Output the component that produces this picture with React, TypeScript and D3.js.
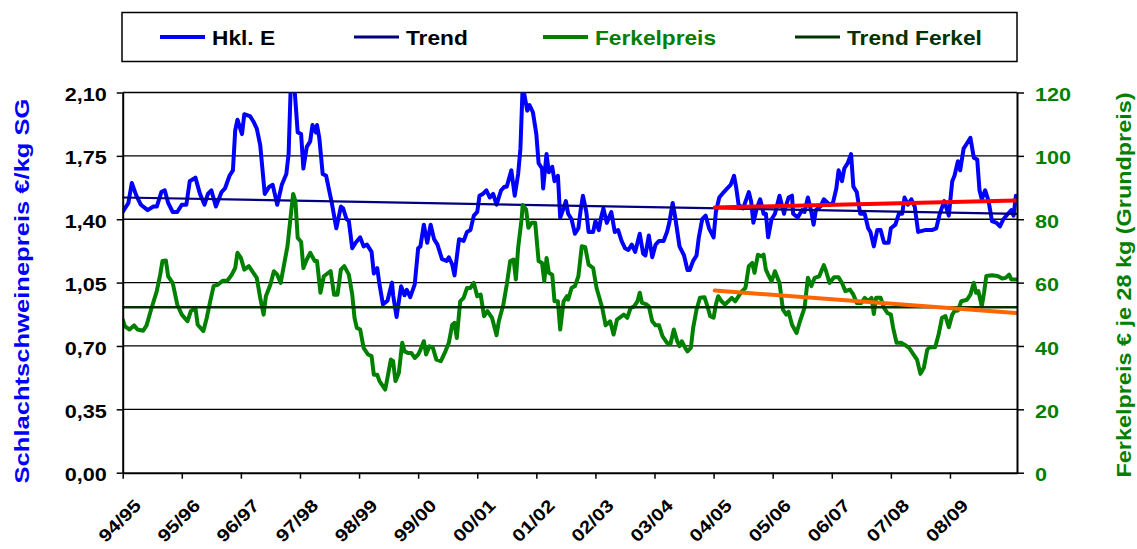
import React, { useRef, useEffect } from 'react';
import * as d3 from 'd3';

// x values are weeks counted from the start of 94/95 (52 weeks per season)
const seasons = ['94/95', '95/96', '96/97', '97/98', '98/99', '99/00', '00/01', '01/02', '02/03', '03/04', '04/05', '05/06', '06/07', '07/08', '08/09'];
const weekMax = 787;

// Hkl. E, €/kg SG (left axis)
const hklE: [number, number][] = [
  [0, 1.44], [5, 1.49], [8, 1.6], [12, 1.53], [16, 1.48], [22, 1.45], [27, 1.47], [30, 1.47], [34, 1.55], [37, 1.56],
  [40, 1.49], [44, 1.44], [48, 1.44], [52, 1.48], [56, 1.48], [59, 1.61], [64, 1.63], [68, 1.54], [72, 1.48], [75, 1.54],
  [78, 1.56], [82, 1.47], [87, 1.55], [90, 1.57], [94, 1.64], [97, 1.67], [99, 1.89], [101, 1.95], [105, 1.87], [107, 1.98],
  [112, 1.97], [115, 1.94], [118, 1.9], [121, 1.81], [125, 1.54], [129, 1.58], [132, 1.59], [136, 1.48], [140, 1.59], [144, 1.65],
  [146, 1.76], [148, 2.16], [151, 2.14], [154, 1.88], [157, 1.87], [159, 1.68], [162, 1.8], [165, 1.83], [167, 1.92], [170, 1.88],
  [171, 1.92], [173, 1.85], [176, 1.65], [179, 1.64], [184, 1.49], [188, 1.35], [192, 1.47], [194, 1.46], [197, 1.4], [199, 1.39],
  [202, 1.24], [205, 1.27], [209, 1.3], [212, 1.25], [215, 1.26], [219, 1.22], [221, 1.1], [224, 1.13], [226, 1.04], [229, 0.93],
  [233, 0.95], [237, 1.05], [238, 0.98], [241, 0.86], [245, 1.03], [248, 0.98], [250, 1.01], [253, 0.97], [257, 1.04], [260, 1.24],
  [262, 1.25], [265, 1.37], [268, 1.27], [271, 1.37], [274, 1.29], [277, 1.26], [281, 1.18], [285, 1.17], [287, 1.19], [290, 1.15],
  [292, 1.09], [296, 1.29], [300, 1.28], [303, 1.33], [306, 1.34], [309, 1.42], [312, 1.44], [314, 1.53], [317, 1.54], [320, 1.56],
  [323, 1.52], [326, 1.54], [329, 1.48], [333, 1.56], [336, 1.58], [338, 1.58], [342, 1.67], [345, 1.53], [348, 1.65], [350, 1.79],
  [352, 2.14], [356, 2.0], [358, 2.03], [361, 1.99], [364, 1.87], [366, 1.71], [369, 1.68], [370, 1.57], [373, 1.76], [375, 1.66],
  [378, 1.69], [380, 1.61], [383, 1.64], [385, 1.41], [388, 1.46], [390, 1.5], [392, 1.43], [395, 1.4], [398, 1.32], [401, 1.35],
  [403, 1.45], [405, 1.53], [408, 1.44], [410, 1.33], [414, 1.33], [416, 1.39], [419, 1.34], [421, 1.41], [423, 1.46], [426, 1.38],
  [430, 1.44], [433, 1.33], [436, 1.34], [439, 1.28], [442, 1.24], [445, 1.23], [448, 1.26], [451, 1.22], [455, 1.32], [458, 1.21],
  [460, 1.2], [463, 1.31], [466, 1.19], [469, 1.26], [472, 1.28], [476, 1.28], [479, 1.33], [481, 1.38], [484, 1.49], [486, 1.42],
  [490, 1.25], [494, 1.2], [497, 1.12], [499, 1.12], [502, 1.17], [505, 1.2], [507, 1.3], [510, 1.4], [513, 1.42], [516, 1.35],
  [520, 1.3], [522, 1.44], [525, 1.52], [529, 1.55], [532, 1.57], [535, 1.59], [538, 1.64], [540, 1.57], [542, 1.48], [546, 1.46],
  [551, 1.55], [553, 1.5], [555, 1.38], [558, 1.46], [561, 1.51], [564, 1.43], [566, 1.43], [568, 1.3], [571, 1.4], [574, 1.43],
  [578, 1.53], [582, 1.43], [583, 1.46], [586, 1.52], [589, 1.53], [590, 1.43], [594, 1.41], [598, 1.45], [600, 1.44], [603, 1.52],
  [606, 1.44], [608, 1.37], [610, 1.45], [614, 1.47], [617, 1.51], [622, 1.48], [625, 1.49], [628, 1.57], [630, 1.67], [633, 1.61],
  [635, 1.68], [638, 1.71], [641, 1.76], [643, 1.58], [646, 1.55], [649, 1.43], [653, 1.43], [656, 1.35], [658, 1.33], [661, 1.25],
  [664, 1.34], [667, 1.34], [670, 1.27], [674, 1.27], [676, 1.35], [680, 1.37], [683, 1.43], [686, 1.43], [688, 1.52], [691, 1.48],
  [694, 1.51], [697, 1.47], [700, 1.33], [706, 1.34], [712, 1.34], [716, 1.35], [719, 1.43], [723, 1.5], [727, 1.42], [730, 1.61],
  [732, 1.64], [735, 1.72], [737, 1.67], [740, 1.79], [743, 1.82], [746, 1.85], [749, 1.74], [752, 1.73], [754, 1.56], [756, 1.51],
  [759, 1.56], [762, 1.5], [765, 1.39], [769, 1.38], [772, 1.36], [775, 1.4], [779, 1.43], [782, 1.45], [784, 1.42], [786, 1.53],
];

// Ferkelpreis, € je 28 kg (right axis)
const ferkelpreis: [number, number][] = [
  [0, 48.3], [2, 46.2], [6, 45.2], [10, 46.5], [13, 45.2], [18, 44.8], [21, 46.5], [25, 51.5], [30, 57.3], [33, 62.5],
  [35, 66.8], [38, 67.0], [40, 62.0], [44, 59.9], [48, 53.1], [52, 49.9], [57, 47.8], [60, 51.0], [64, 52.0], [66, 46.7],
  [71, 44.7], [74, 48.9], [77, 54.1], [80, 58.9], [84, 59.4], [88, 60.6], [92, 60.6], [96, 62.5], [99, 64.6], [101, 69.4],
  [104, 67.8], [107, 64.1], [111, 65.2], [115, 63.1], [118, 61.5], [121, 55.2], [124, 49.9], [126, 55.7], [130, 59.4], [133, 63.6],
  [136, 62.5], [139, 59.9], [142, 65.7], [145, 71.5], [148, 81.5], [150, 88.0], [152, 85.7], [154, 74.1], [157, 72.9], [159, 64.6],
  [162, 67.3], [165, 69.4], [169, 66.8], [171, 66.8], [174, 56.8], [177, 62.0], [181, 63.1], [183, 63.6], [186, 56.2], [189, 56.2],
  [192, 64.1], [195, 65.2], [199, 62.5], [202, 56.2], [204, 48.9], [206, 45.7], [209, 45.2], [212, 39.4], [216, 37.3], [219, 36.8],
  [221, 30.9], [224, 30.9], [226, 28.9], [231, 26.2], [233, 29.9], [236, 35.7], [238, 35.2], [240, 28.9], [243, 31.5], [246, 41.0],
  [248, 38.3], [251, 37.8], [254, 37.8], [257, 36.2], [260, 37.3], [262, 38.8], [265, 41.5], [267, 37.3], [270, 39.9], [273, 39.4],
  [276, 35.7], [280, 35.2], [284, 38.3], [287, 41.0], [290, 46.7], [292, 47.3], [294, 42.5], [297, 54.1], [300, 55.2], [303, 58.3],
  [306, 58.3], [309, 59.9], [312, 55.7], [315, 56.2], [318, 49.4], [321, 51.0], [325, 48.9], [329, 43.4], [331, 47.8], [335, 53.1],
  [338, 59.4], [341, 66.8], [344, 67.3], [346, 61.0], [348, 71.0], [351, 79.9], [352, 84.5], [355, 83.1], [357, 77.3], [360, 78.9],
  [363, 78.9], [366, 66.8], [369, 66.2], [371, 60.4], [373, 67.8], [375, 63.1], [378, 62.5], [380, 54.1], [383, 54.1], [385, 45.2],
  [388, 54.1], [391, 55.7], [392, 54.6], [395, 58.3], [398, 58.9], [401, 62.0], [404, 71.5], [407, 71.2], [410, 65.7], [414, 64.6],
  [417, 58.3], [420, 54.6], [422, 52.0], [425, 46.5], [429, 47.8], [432, 43.6], [435, 48.3], [438, 49.1], [441, 49.9], [444, 48.9],
  [447, 52.0], [450, 52.5], [453, 54.1], [455, 56.8], [457, 53.6], [461, 53.1], [463, 52.5], [466, 47.8], [469, 46.5], [472, 46.5],
  [475, 43.1], [479, 41.0], [482, 40.6], [485, 45.2], [488, 41.5], [490, 39.9], [492, 41.5], [495, 39.4], [497, 38.3], [500, 39.4],
  [502, 45.7], [505, 51.5], [508, 55.2], [512, 55.4], [515, 52.0], [517, 49.4], [520, 48.9], [522, 53.1], [524, 55.7], [527, 54.1],
  [530, 53.1], [533, 54.1], [536, 55.2], [539, 54.1], [542, 55.7], [545, 57.3], [548, 58.3], [551, 65.2], [554, 66.2], [556, 63.1],
  [559, 68.8], [562, 68.3], [564, 68.8], [566, 64.1], [568, 62.5], [571, 60.4], [574, 63.6], [578, 59.9], [581, 51.5], [584, 49.9],
  [586, 50.8], [589, 46.7], [593, 44.1], [596, 47.8], [600, 52.0], [603, 61.5], [606, 58.9], [609, 61.5], [613, 62.0], [615, 63.8],
  [617, 65.5], [619, 63.6], [622, 59.9], [626, 61.7], [630, 61.7], [633, 59.9], [636, 57.3], [640, 57.8], [643, 56.2], [646, 53.6],
  [650, 53.6], [653, 55.2], [656, 54.1], [659, 55.2], [661, 50.1], [663, 55.2], [667, 55.2], [670, 52.0], [673, 50.4], [676, 49.9],
  [678, 45.7], [681, 41.0], [685, 41.0], [688, 40.4], [692, 39.4], [696, 37.3], [699, 35.7], [702, 31.2], [705, 33.1], [708, 38.8],
  [710, 39.6], [715, 39.6], [718, 43.6], [721, 48.9], [724, 49.4], [727, 45.9], [730, 49.9], [732, 51.0], [735, 51.2], [738, 54.1],
  [743, 54.6], [746, 56.2], [749, 59.9], [751, 56.8], [753, 57.3], [756, 52.5], [758, 56.8], [760, 62.1], [765, 62.3], [770, 62.1],
  [774, 61.3], [777, 61.5], [780, 62.5], [782, 61.0], [786, 61.0],
];

// trend lines
const trendHkl: [number, number][] = [[0, 1.52], [787, 1.43]];
const trendFerkel: [number, number][] = [[0, 52.2], [787, 52.2]];
const trendHklSeit0405: [number, number][] = [[521, 1.465], [786, 1.503]];
const trendFerkelSeit0405: [number, number][] = [[521, 57.5], [786, 50.4]];

const FONT = '"Liberation Sans", Arial, sans-serif';

// widen text like the original's rendering
const stretch = (sel, k) => {
  sel.each(function () {
    const n = this.getComputedTextLength();
    d3.select(this).attr('textLength', n * k).attr('lengthAdjust', 'spacingAndGlyphs');
  });
};

const App = () => {
  const svgRef = useRef<SVGSVGElement>(null);

  useEffect(() => {
    const svg = d3.select(svgRef.current);
    svg.selectAll('*').remove();

    const left = 122.7, right = 1017, top = 92.5, bottom = 472.7;

    const x = d3.scaleLinear().domain([0, weekMax]).range([left, right]);
    const yL = d3.scaleLinear().domain([0, 2.1]).range([bottom, top]);
    const yR = d3.scaleLinear().domain([0, 120]).range([bottom, top]);

    svg.append('defs').append('clipPath').attr('id', 'plot-clip')
      .append('rect').attr('x', left).attr('y', top).attr('width', right - left).attr('height', bottom - top);

    // gridlines
    svg.append('g').selectAll('line')
      .data(d3.range(1, 7).map(i => i * 0.35))
      .join('line')
      .attr('x1', left).attr('x2', right)
      .attr('y1', d => yL(d)).attr('y2', d => yL(d))
      .attr('stroke', '#000').attr('stroke-width', 1.3);

    // series
    const plot = svg.append('g').attr('clip-path', 'url(#plot-clip)');
    const lineL = d3.line<[number, number]>().x(d => x(d[0])).y(d => yL(d[1]));
    const lineR = d3.line<[number, number]>().x(d => x(d[0])).y(d => yR(d[1]));

    const draw = (data, gen, color, width) => plot.append('path')
      .datum(data).attr('d', gen).attr('fill', 'none')
      .attr('stroke', color).attr('stroke-width', width)
      .attr('stroke-linejoin', 'round').attr('stroke-linecap', 'round');

    draw(hklE, lineL, '#0000ff', 4);
    draw(trendHkl, lineL, '#000080', 2.2);
    draw(ferkelpreis, lineR, '#008000', 4);
    draw(trendFerkel, lineR, '#003300', 2.5);
    draw(trendHklSeit0405, lineL, '#ff0000', 4);
    draw(trendFerkelSeit0405, lineR, '#ff6600', 4);

    // axes
    const fmt = d => d3.format('.2f')(d).replace('.', ',');
    const gL = svg.append('g').attr('transform', `translate(${left},0)`)
      .call(d3.axisLeft(yL).tickValues(d3.range(0, 7).map(i => i * 0.35)).tickSize(6).tickSizeOuter(0).tickPadding(10).tickFormat(fmt));
    const gR = svg.append('g').attr('transform', `translate(${right},0)`)
      .call(d3.axisRight(yR).tickValues(d3.range(0, 121, 20)).tickSize(7).tickSizeOuter(0).tickPadding(11));
    const gB = svg.append('g').attr('transform', `translate(0,${bottom})`)
      .call(d3.axisBottom(x).tickValues(d3.range(0, seasons.length).map(i => i * 52)).tickSize(6).tickSizeOuter(0).tickFormat((d, i) => seasons[i]));

    [gL, gR, gB].forEach(g => {
      g.select('.domain').attr('stroke', '#000').attr('stroke-width', 2);
      g.selectAll('.tick line').attr('stroke', '#000').attr('stroke-width', 1.5);
      g.selectAll('text').attr('font-family', FONT).attr('font-weight', 'bold');
    });
    gL.selectAll('text').attr('font-size', 18).attr('fill', '#000').attr('dy', '0.45em');
    gR.selectAll('text').attr('font-size', 18).attr('fill', '#008000').attr('dy', '0.45em');
    gB.selectAll('text').attr('font-size', 17.5).attr('fill', '#000')
      .attr('x', 0).attr('y', 0).attr('dy', 0).attr('text-anchor', 'end')
      .attr('transform', 'translate(19,34) rotate(-45)');
    stretch(gL.selectAll('text'), 1.2);
    stretch(gR.selectAll('text'), 1.2);
    stretch(gB.selectAll('text'), 1.18);

    // axis titles
    svg.append('text').attr('transform', 'translate(28.5,291) rotate(-90)')
      .attr('text-anchor', 'middle').attr('font-family', FONT).attr('font-weight', 'bold')
      .attr('font-size', 21).attr('fill', '#0000ff')
      .attr('textLength', 385).attr('lengthAdjust', 'spacingAndGlyphs')
      .text('Schlachtschweinepreis €/kg SG');
    svg.append('text').attr('transform', 'translate(1131,285) rotate(-90)')
      .attr('text-anchor', 'middle').attr('font-family', FONT).attr('font-weight', 'bold')
      .attr('font-size', 21).attr('fill', '#008000')
      .attr('textLength', 385).attr('lengthAdjust', 'spacingAndGlyphs')
      .text('Ferkelpreis € je 28 kg (Grundpreis)');

    // legend
    const legend = svg.append('g');
    legend.append('rect').attr('x', 122).attr('y', 12.5).attr('width', 895).attr('height', 49)
      .attr('fill', '#fff').attr('stroke', '#000').attr('stroke-width', 1.5);
    const items = [
      { label: 'Hkl. E', color: '#0000ff', text: '#000', w: 4, x0: 160 },
      { label: 'Trend', color: '#000080', text: '#000', w: 3, x0: 354 },
      { label: 'Ferkelpreis', color: '#008000', text: '#008000', w: 4, x0: 543 },
      { label: 'Trend Ferkel', color: '#003300', text: '#003300', w: 3, x0: 795 },
    ];
    const li = legend.selectAll('g.item').data(items).join('g').attr('class', 'item');
    li.append('line').attr('x1', d => d.x0).attr('x2', d => d.x0 + 45).attr('y1', 37).attr('y2', 37)
      .attr('stroke', d => d.color).attr('stroke-width', d => d.w);
    const lt = li.append('text').attr('x', d => d.x0 + 52).attr('y', 45)
      .attr('font-family', FONT).attr('font-weight', 'bold').attr('font-size', 21)
      .attr('fill', d => d.text).text(d => d.label);
    stretch(lt, 1.08);
  }, []);

  return (
    <svg ref={svgRef} width={1137} height={549}
      style={{ position: 'absolute', left: 0, top: 0, background: '#fff' }} />
  );
};

export default App;
